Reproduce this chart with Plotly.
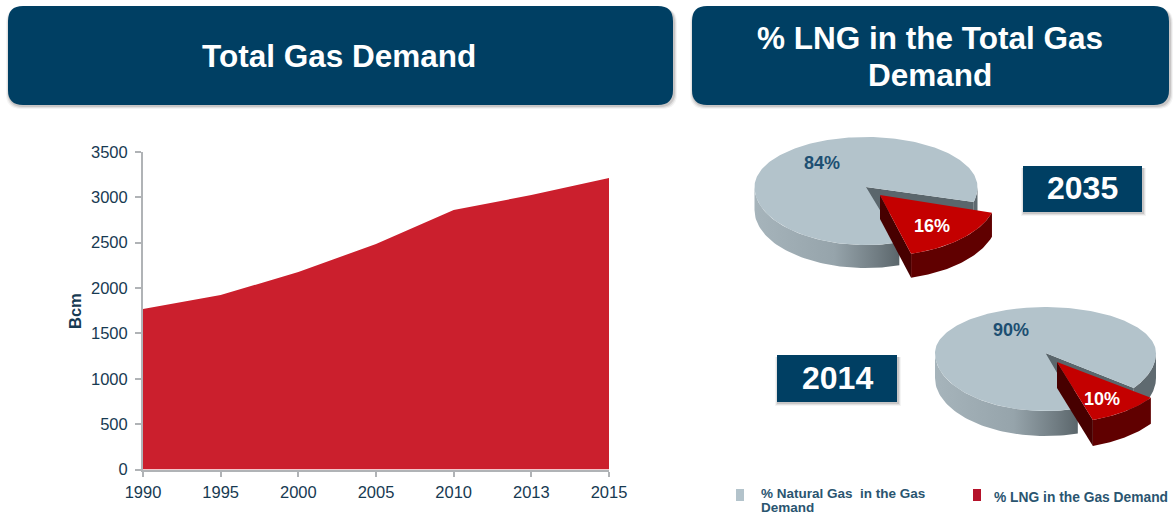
import numpy as np
import plotly.graph_objects as go

# Total gas demand, Bcm
years = ["1990", "1995", "2000", "2005", "2010", "2013", "2015"]
demand_bcm = [1770, 1923, 2177, 2486, 2860, 3026, 3213]
y_ticks = [0, 500, 1000, 1500, 2000, 2500, 3000, 3500]

# Share of LNG in total demand, per year
pie_years = ["2035", "2014"]
natural_gas_share = [84, 90]
lng_share = [16, 10]
gas_legend_lines = ["% Natural Gas  in the Gas", "Demand"]
lng_legend = "% LNG in the Gas Demand"

left_title = "Total Gas Demand"
right_title_lines = ["% LNG in the Total Gas", "Demand"]

FONT = "Liberation Sans"
NAVY = "#003f63"
INK = "#173a52"
RED = "#cb1f2d"
GREY_TOP = "#b3c3cb"
LNG_TOP = "#c40000"
LNG_SIDE = "#600000"
LNG_CUT = "#470000"
INNER_WALL = "#5a666c"
SLICE_SCALE = 1.05
W, H = 1176, 516

fig = go.Figure()

# Area chart on the primary axes
fig.add_trace(go.Scatter(
    x=years, y=demand_bcm, mode="lines", fill="tozeroy",
    line=dict(color=RED, width=0), fillcolor=RED,
    hoverinfo="x+y", showlegend=False, xaxis="x", yaxis="y",
))


def rim(cx, cy, rx, ry_back, ry_front, deg):
    """Points on a foreshortened pie rim; the near half is drawn deeper."""
    a = np.radians(np.asarray(deg, dtype=float))
    s = np.sin(a)
    return cx + rx * np.cos(a), cy + s * np.where(s > 0, ry_front, ry_back)


def poly(xs, ys, color=None, gradient=None):
    """Add a closed filled polygon on the full-page axes."""
    kw = dict(fillgradient=gradient) if gradient else dict(fillcolor=color)
    fig.add_trace(go.Scatter(
        x=list(xs) + [xs[0]], y=list(ys) + [ys[0]], mode="lines", fill="toself",
        line=dict(width=0), hoverinfo="skip", showlegend=False,
        xaxis="x2", yaxis="y2", **kw,
    ))


def arc_wall(geom, a0, a1, depth, color=None, gradient=None):
    """Outer wall below the rim between two angles."""
    deg = np.linspace(a0, a1, 60)
    x, y = rim(*geom, deg)
    poly(np.r_[x, x[::-1]], np.r_[y, y[::-1] + depth], color, gradient)


def cut_wall(geom, deg, depth, color):
    """Flat cut face running from the pie's centre to the rim."""
    x, y = rim(*geom, [deg])
    cx, cy = geom[0], geom[1]
    poly([cx, x[0], x[0], cx], [cy, y[0], y[0] + depth, cy + depth], color)


def draw_pie(cx, cy, rx, ry_back, ry_front, depth, start, slice_start, offset, lng):
    geom = (cx, cy, rx, ry_back, ry_front)
    span = lng * 3.6
    end = start + span

    # Main body: hidden walls first, then the top face over them
    cut_wall(geom, start, depth, INNER_WALL)
    arc_wall(geom, 0, start, depth, "#5f6a70")
    shade = dict(type="horizontal", start=cx - rx, stop=rim(*geom, [end])[0][0],
                 colorscale=[[0, "#a6b4bb"], [0.55, "#96a4ab"], [0.85, "#707c82"], [1, "#5b666b"]])
    arc_wall(geom, end, 180, depth, gradient=shade)
    x, y = rim(*geom, np.linspace(end, start + 360, 240))
    poly(np.r_[cx, x], np.r_[cy, y], GREY_TOP)

    # Pulled-out LNG slice, slightly nearer the viewer
    gx, gy = cx + offset[0], cy + offset[1]
    slice_geom = (gx, gy, rx * SLICE_SCALE, ry_back * SLICE_SCALE, ry_front * SLICE_SCALE)
    slice_end = slice_start + span
    arc_wall(slice_geom, slice_start, slice_end, depth + 1, LNG_SIDE)
    cut_wall(slice_geom, slice_end, depth + 1, LNG_CUT)
    x, y = rim(*slice_geom, np.linspace(slice_start, slice_end, 60))
    poly(np.r_[gx, x], np.r_[gy, y], LNG_TOP)


draw_pie(866, 187, 111.5, 50, 58, 23, 15, 17, (14, 8), lng_share[0])
draw_pie(1045.5, 353, 110.5, 46, 58, 25, 37, 36, (11.5, 9), lng_share[1])


def round_rect(x0, y0, x1, y1, r):
    return (f"M{x0+r},{y0} L{x1-r},{y0} Q{x1},{y0} {x1},{y0+r} L{x1},{y1-r} Q{x1},{y1} {x1-r},{y1} "
            f"L{x0+r},{y1} Q{x0},{y1} {x0},{y1-r} L{x0},{y0+r} Q{x0},{y0} {x0+r},{y0} Z")


def panel(x0, y0, x1, y1, r):
    """Navy panel with a soft drop shadow built from stacked translucent copies."""
    out = []
    for grow, alpha in ((3.0, 0.06), (2.0, 0.10), (1.0, 0.16)):
        out.append(dict(type="path", xref="x2", yref="y2", layer="below",
                        path=round_rect(x0 - grow + 1, y0 + 2, x1 + grow + 1, y1 + grow + 1, r),
                        fillcolor=f"rgba(70,60,60,{alpha})", line=dict(width=0)))
    out.append(dict(type="path", xref="x2", yref="y2", layer="below",
                    path=round_rect(x0, y0, x1, y1, r), fillcolor=NAVY, line=dict(width=0)))
    return out


shapes = panel(8, 6, 673, 105, 15) + panel(692, 6, 1169, 105, 15)
shapes += panel(1023, 166, 1142, 212, 0.01) + panel(777, 355, 897, 402, 0.01)

# Legend swatches
for sx, col in ((736, "#b3c3cb"), (973, "#b5122a")):
    shapes.append(dict(type="rect", xref="x2", yref="y2", x0=sx, x1=sx + 8, y0=489, y1=501,
                       fillcolor=col, line=dict(width=0)))


def label(x, y, text, size, color, anchor="center", bold=True, angle=0):
    return dict(xref="x2", yref="y2", x=x, y=y, text=f"<b>{text}</b>" if bold else text,
                showarrow=False, xanchor=anchor, yanchor="middle", textangle=angle,
                align="left" if anchor == "left" else "center",
                font=dict(family=FONT, size=size, color=color))


annotations = [
    label(339, 56, left_title, 31.5, "white"),
    label(930, 38, right_title_lines[0], 31.5, "white"),
    label(930, 75, right_title_lines[1], 31.5, "white"),
    label(1082.5, 188, pie_years[0], 32, "white"),
    label(837, 378, pie_years[1], 32, "white"),
    label(822, 163, f"{natural_gas_share[0]}%", 18, "#1d4f72"),
    label(932, 226, f"{lng_share[0]}%", 18, "white"),
    label(1011, 330, f"{natural_gas_share[1]}%", 18, "#1d4f72"),
    label(1102, 399, f"{lng_share[1]}%", 18, "white"),
    label(759, 493, gas_legend_lines[0], 13.5, "#2a5570", anchor="left"),
    label(759, 507, gas_legend_lines[1], 13.5, "#2a5570", anchor="left"),
    label(992, 497, lng_legend, 13.8, "#2a5570", anchor="left"),
    label(75, 311, "Bcm", 16.5, INK, angle=-90),
]

tick_font = dict(family=FONT, size=16.5, color=INK)
axis_grey = "#b0b3b6"

fig.update_layout(
    width=W, height=H, autosize=False,
    margin=dict(l=0, r=0, t=0, b=0, autoexpand=False),
    paper_bgcolor="white", plot_bgcolor="rgba(0,0,0,0)",
    showlegend=False, shapes=shapes, annotations=annotations,
    xaxis=dict(
        domain=[143 / W, 609 / W], type="category", range=[0, 6],
        tickmode="array", tickvals=years, ticktext=years,
        ticks="outside", ticklen=5, tickwidth=1.5, tickcolor=axis_grey,
        showline=True, linecolor=axis_grey, linewidth=2, showgrid=False,
        tickfont=tick_font, anchor="y", automargin=False, ticklabelstandoff=2,
    ),
    yaxis=dict(
        domain=[(H - 469.5) / H, (H - 152) / H], range=[0, 3500],
        tickmode="array", tickvals=y_ticks,
        ticks="outside", ticklen=6, tickwidth=1.5, tickcolor=axis_grey,
        showline=True, linecolor=axis_grey, linewidth=2, showgrid=False, zeroline=False,
        tickfont=tick_font, anchor="x", automargin=False, ticklabelstandoff=4,
    ),
    xaxis2=dict(domain=[0, 1], range=[0, W], visible=False, anchor="y2", fixedrange=True),
    yaxis2=dict(domain=[0, 1], range=[H, 0], visible=False, anchor="x2", fixedrange=True),
)

fig.write_html("out.html")
